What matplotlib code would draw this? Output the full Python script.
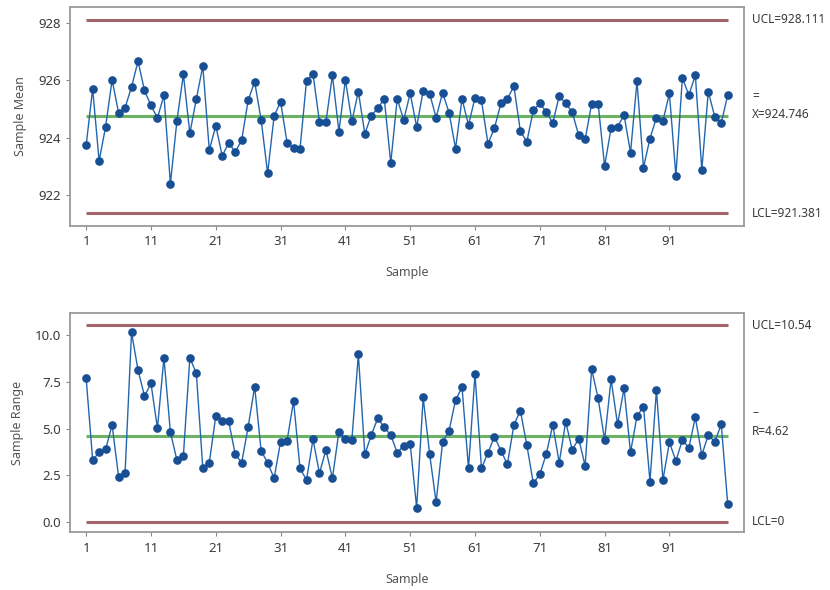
import matplotlib
matplotlib.use('Agg')
import matplotlib.pyplot as plt
import matplotlib.transforms as mtransforms

plt.rcParams['font.family'] = ['Noto Sans', 'DejaVu Sans']

# Xbar chart
sample_mean = [
    923.75, 925.71, 923.20, 924.39, 926.02, 924.88, 925.05, 925.77, 926.67, 925.65,
    925.13, 924.69, 925.49, 922.41, 924.59, 926.21, 924.16, 925.36, 926.50, 923.58,
    924.42, 923.38, 923.83, 923.51, 923.93, 925.31, 925.95, 924.63, 922.77, 924.76,
    925.26, 923.84, 923.64, 923.63, 925.98, 926.23, 924.56, 924.56, 926.18, 924.22,
    926.02, 924.58, 925.61, 924.15, 924.78, 925.03, 925.36, 923.13, 925.36, 924.63,
    925.55, 924.39, 925.63, 925.54, 924.71, 925.57, 924.88, 923.63, 925.36, 924.45,
    925.40, 925.31, 923.80, 924.34, 925.20, 925.36, 925.80, 924.24, 923.87, 924.96,
    925.20, 924.91, 924.52, 925.46, 925.20, 924.90, 924.09, 923.95, 925.19, 925.19,
    923.02, 924.34, 924.39, 924.80, 923.49, 925.97, 922.97, 923.98, 924.71, 924.59,
    925.55, 922.68, 926.09, 925.49, 926.18, 922.89, 925.61, 924.74, 924.52, 925.49,
]
xbar_ucl = 928.111
xbar_cl = 924.746
xbar_lcl = 921.381

# R chart
sample_range = [
    7.69, 3.31, 3.72, 3.88, 5.19, 2.42, 2.60, 10.16, 8.14, 6.74,
    7.42, 5.01, 8.80, 4.80, 3.31, 3.54, 8.80, 7.96, 2.86, 3.17,
    5.67, 5.40, 5.38, 3.61, 3.17, 5.10, 7.24, 3.79, 3.17, 2.33,
    4.29, 4.34, 6.48, 2.86, 2.24, 4.42, 2.60, 3.85, 2.33, 4.83,
    4.42, 4.38, 8.98, 3.61, 4.65, 5.55, 5.06, 4.65, 3.70, 4.08,
    4.17, 0.75, 6.67, 3.63, 1.04, 4.26, 4.88, 6.53, 7.21, 2.86,
    7.91, 2.86, 3.70, 4.56, 3.81, 3.08, 5.19, 5.96, 4.11, 2.06,
    2.54, 3.63, 5.19, 3.17, 5.37, 3.85, 4.45, 3.00, 8.19, 6.62,
    4.38, 7.64, 5.22, 7.15, 3.72, 5.67, 6.17, 2.15, 7.07, 2.24,
    4.26, 3.26, 4.38, 3.97, 5.60, 3.58, 4.65, 4.29, 5.22, 0.95,
]
r_ucl = 10.54
r_cl = 4.62
r_lcl = 0

samples = list(range(1, len(sample_mean) + 1))
xticks = list(range(1, 100, 10))

BLUE = '#2366b0'
DOT = '#184f94'
LIMIT = '#a3646c'
CENTER = '#6db264'
TEXT = '#3a3a3a'

fig = plt.figure(figsize=(8.3, 5.9), dpi=100)
ax1 = fig.add_axes([0.0843, 0.617, 0.812, 0.371])
ax2 = fig.add_axes([0.0843, 0.0975, 0.812, 0.372])


def draw_chart(ax, values, ucl, cl, lcl, ylim, yticks, ylabel, fmt):
    ax.plot(samples, values, color=BLUE, lw=1.0, marker='o', ms=5.2,
            mfc=DOT, mec=DOT, zorder=3)
    ax.hlines([ucl, lcl], samples[0], samples[-1], colors=LIMIT, lw=2.2, zorder=2)
    ax.hlines(cl, samples[0], samples[-1], colors=CENTER, lw=2.2, zorder=2)
    ax.set_xlim(-1.5, 102.5)
    ax.set_ylim(*ylim)
    ax.set_xticks(xticks)
    ax.set_yticks(yticks)
    ax.set_yticklabels([fmt.format(v) for v in yticks])
    ax.tick_params(colors=TEXT, labelsize=9.5, length=3, color='#888888')
    for s in ax.spines.values():
        s.set_color('#9a9a9a')
        s.set_linewidth(1.3)
    ax.set_xlabel('Sample', color='#555555', fontsize=9, labelpad=13)
    ax.set_ylabel(ylabel, color='#555555', fontsize=9, labelpad=8)


draw_chart(ax1, sample_mean, xbar_ucl, xbar_cl, xbar_lcl, (920.94, 928.55),
           [922, 924, 926, 928], 'Sample Mean', '{:.0f}')
draw_chart(ax2, sample_range, r_ucl, r_cl, r_lcl, (-0.58, 11.2),
           [0.0, 2.5, 5.0, 7.5, 10.0], 'Sample Range', '{:.1f}')

tr1 = mtransforms.blended_transform_factory(ax1.transAxes, ax1.transData)
tr2 = mtransforms.blended_transform_factory(ax2.transAxes, ax2.transData)
lx = 1.012
ax1.text(lx, xbar_ucl, f'UCL={xbar_ucl}', transform=tr1, va='center', fontsize=8.5, color=TEXT)
ax1.text(lx, xbar_cl + 0.08, f'X={xbar_cl}', transform=tr1, va='center', fontsize=8.5, color=TEXT)
ax1.text(lx, xbar_cl + 0.68, '=', transform=tr1, va='center', fontsize=8.5, color=TEXT)
ax1.text(lx, xbar_lcl, f'LCL={xbar_lcl}', transform=tr1, va='center', fontsize=8.5, color=TEXT)

ax2.text(lx, r_ucl, f'UCL={r_ucl}', transform=tr2, va='center', fontsize=8.5, color=TEXT)
ax2.text(lx, r_cl + 0.2, f'R={r_cl}', transform=tr2, va='center', fontsize=8.5, color=TEXT)
ax2.text(lx, r_cl + 1.25, '\u2013', transform=tr2, va='center', fontsize=8.5, color=TEXT)
ax2.text(lx, r_lcl, f'LCL={r_lcl}', transform=tr2, va='center', fontsize=8.5, color=TEXT)

fig.savefig('out.png', dpi=100, facecolor='white')
